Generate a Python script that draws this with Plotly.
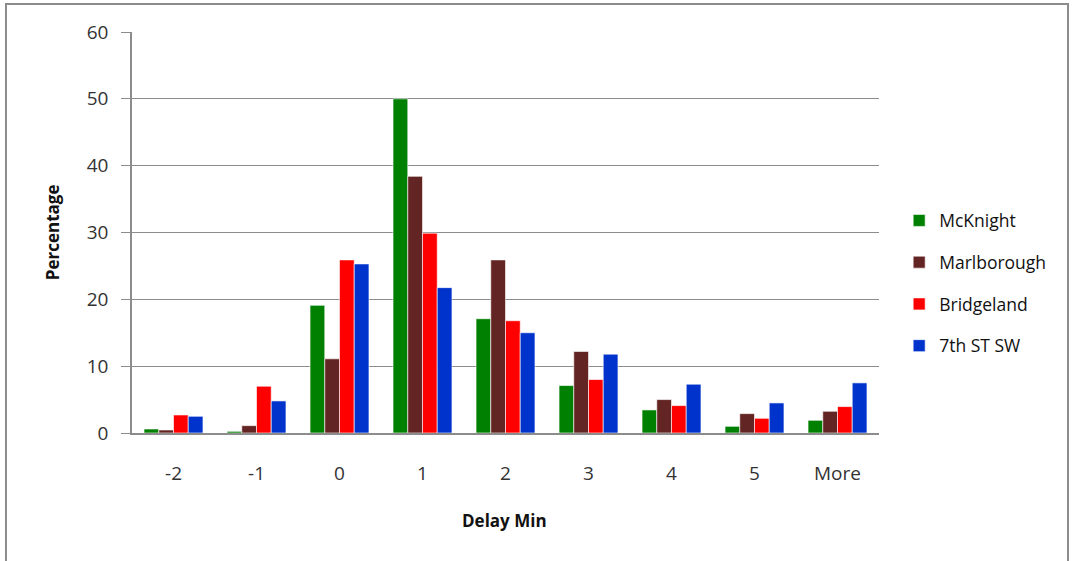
import plotly.graph_objects as go

categories = ["-2", "-1", "0", "1", "2", "3", "4", "5", "More"]
mcknight = [0.6, 0.25, 19.1, 50.0, 17.1, 7.1, 3.45, 1.0, 1.9]
marlborough = [0.45, 1.1, 11.1, 38.4, 25.9, 12.2, 5.0, 2.9, 3.25]
bridgeland = [2.7, 7.0, 25.9, 29.9, 16.8, 8.0, 4.1, 2.2, 3.95]
seventh_st = [2.5, 4.8, 25.3, 21.75, 15.0, 11.8, 7.3, 4.5, 7.5]

series = [
    ("McKnight", mcknight, "#008000"),
    ("Marlborough", marlborough, "#632523"),
    ("Bridgeland", bridgeland, "#FF0000"),
    ("7th ST SW", seventh_st, "#0033CC"),
]

FONT = "Open Sans"
fig = go.Figure()
for i, (name, vals, color) in enumerate(series):
    fig.add_trace(go.Bar(
        x=categories, y=vals, name=name,
        marker=dict(color=color, line=dict(color="rgba(255,255,255,0.6)", width=1)),
        legendgroup=f"g{i}",
    ))

fig.update_layout(
    width=1073, height=561,
    margin=dict(l=132, r=194, t=32, b=128),
    paper_bgcolor="white", plot_bgcolor="white",
    barmode="group", bargap=0.29, bargroupgap=0,
    font=dict(family=FONT, size=19, color="#333333"),
    showlegend=True,
    legend=dict(
        x=1.027, y=0.374, xanchor="left", yanchor="middle",
        font=dict(family=FONT, size=17.5, color="#111111"),
        tracegroupgap=16, itemwidth=30,
        bgcolor="rgba(0,0,0,0)",
    ),
    xaxis=dict(
        type="category", showgrid=False, showline=True,
        linecolor="#8c8c8c", linewidth=1.5, ticks="",
        ticklabelstandoff=22, tickfont=dict(family=FONT, size=19, color="#333333"),
    ),
    yaxis=dict(
        range=[0, 60], dtick=10, showgrid=True, gridcolor="#8c8c8c", gridwidth=1,
        showline=True, linecolor="#8c8c8c", linewidth=1.5,
        ticks="outside", ticklen=9, tickcolor="#8c8c8c",
        ticklabelstandoff=9,
        tickfont=dict(family=FONT, size=19, color="#333333"),
        zeroline=False,
    ),
    annotations=[
        dict(text="<b>Delay Min</b>", xref="paper", yref="paper", x=0.4993, y=-0.217,
             showarrow=False, font=dict(family=FONT, size=17, color="#111111"),
             xanchor="center", yanchor="middle"),
        dict(text="<b>Percentage</b>", xref="paper", yref="paper", x=-0.107, y=0.501,
             showarrow=False, textangle=-90, font=dict(family=FONT, size=17, color="#111111"),
             xanchor="center", yanchor="middle"),
    ],
    shapes=[
        dict(type="rect", xref="paper", yref="paper", x0=-0.1687, x1=1.253, y0=-0.34, y1=1.0698,
             line=dict(color="#8c8c8c", width=2), fillcolor="rgba(0,0,0,0)", layer="below"),
    ],
)

fig.write_html("out.html", config={"displayModeBar": False},
               post_script="document.body.style.margin='0';document.body.style.overflow='hidden';")
